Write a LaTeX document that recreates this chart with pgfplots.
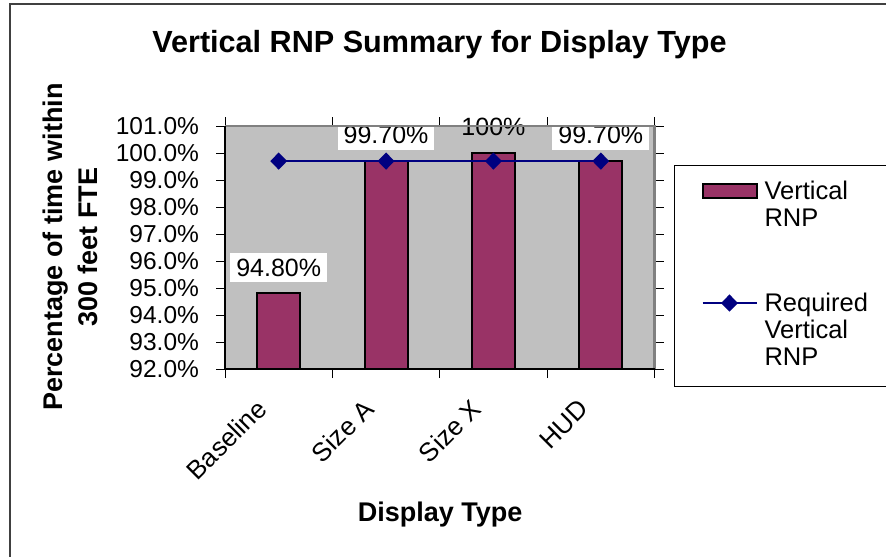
\documentclass[border=0pt]{standalone}
\usepackage{fontspec}
\setmainfont{Liberation Sans}
\usepackage{pgfplots}
\pgfplotsset{compat=1.18}
\definecolor{barc}{HTML}{993366}
\definecolor{navyc}{HTML}{000080}
\definecolor{bgc}{HTML}{C0C0C0}
\definecolor{framec}{HTML}{808080}
\newcommand\wbox[1]{{\setlength{\fboxsep}{3pt}\colorbox{white}{#1}}}
\newcommand\nbox[1]{{\setlength{\fboxsep}{3pt}\setlength{\fboxrule}{0pt}\fbox{#1}}}
\pgfplotsset{
  mybarleg/.style={legend image code/.code={\draw[##1] (-1pt,0.9pt) rectangle (26pt,7.9pt);}},
  mylineleg/.style={legend image code/.code={\draw[mark repeat=2,mark phase=2,##1] plot coordinates {(-1pt,4.4pt) (12.5pt,4.4pt) (26pt,4.4pt)};}},
}
\begin{document}
\begin{tikzpicture}
\path[use as bounding box] (0,0) rectangle (443pt,278pt);
\draw[line width=1pt, black!75] (5pt,-2pt) -- (5pt,275.75pt) -- (446pt,275.75pt);
\begin{axis}[
  at={(112.5pt,93.5pt)}, anchor=south west,
  scale only axis, width=214.75pt, height=121.5pt,
  xmin=-0.5, xmax=3.5, ymin=92, ymax=101,
  axis line style={draw=none},
  axis background/.style={fill=bgc},
  tick align=outside,
  major tick length=4.5pt,
  tick style={black, line width=0.5pt},
  ytick={92,93,94,95,96,97,98,99,100,101},
  yticklabels={92.0\%,93.0\%,94.0\%,95.0\%,96.0\%,97.0\%,98.0\%,99.0\%,100.0\%,101.0\%},
  yticklabel style={xshift=-5pt},
  xtick={-0.5,0.5,1.5,2.5,3.5},
  xticklabels={},
  extra x ticks={0,1,2,3},
  extra x tick labels={Baseline,Size A,Size X,HUD},
  extra x tick style={tick style={draw=none}, xticklabel style={rotate=45, anchor=east, yshift=-3.3pt, xshift=-11.8pt, font=\fontsize{13}{15}\selectfont}},
  ticklabel style={font=\fontsize{12.25}{14}\selectfont},
  title={Vertical RNP Summary for Display Type},
  title style={at={(axis description cs:0.4994,1.284)}, anchor=center, font=\bfseries\fontsize{15.3}{18}\selectfont},
  xlabel={Display Type},
  xlabel style={at={(axis description cs:0.501,-0.597)}, anchor=center, font=\bfseries\fontsize{13.5}{16}\selectfont},
  ylabel={Percentage of time within\\300 feet FTE},
  ylabel style={at={(axis description cs:-0.36,0.502)}, anchor=center, align=center, font=\bfseries\fontsize{13.5}{17.5}\selectfont},
  legend cell align=left,
  legend style={at={(axis description cs:1.0454,0.8395)}, anchor=north west,
    draw=black, line width=0.5pt, fill=white, inner xsep=13.5pt, inner ysep=8pt,
    font=\fontsize{12.75}{13.5}\selectfont, row sep=32.7pt,
    nodes={text width=110pt, align=left, inner ysep=0pt, inner xsep=3.5pt},
    cells={anchor=base west}},
  after end axis/.code={
    \draw[framec, line width=1.2pt] (rel axis cs:0,1) -- (rel axis cs:1,1) -- (rel axis cs:1,0);
    \draw[black, line width=0.6pt] (rel axis cs:0,1) -- (rel axis cs:0,0) -- (rel axis cs:1,0);
  },
]
\addplot[ybar, bar width=21.5pt, fill=barc, draw=black, line width=1pt,
  point meta=explicit symbolic, nodes near coords,
  every node near coord/.append style={inner sep=0pt, yshift=5pt, anchor=south, text=black, font=\fontsize{12.5}{14}\selectfont},
  mybarleg]
  coordinates {(0,94.8) [\wbox{94.80\%}] (1,99.7) [\wbox{99.70\%}] (2,100) [\nbox{100\%}] (3,99.7) [\wbox{99.70\%}]};
\addlegendentry[text depth=14pt]{Vertical\\RNP}
\addplot[navyc, line width=1pt, mark=diamond*, mark size=3.6pt, mark options={fill=navyc, xscale=1.3},
  mylineleg]
  coordinates {(0,99.7) (1,99.7) (2,99.7) (3,99.7)};
\addlegendentry[text depth=29.5pt]{Required\\Vertical\\RNP}
\end{axis}
\end{tikzpicture}
\end{document}
